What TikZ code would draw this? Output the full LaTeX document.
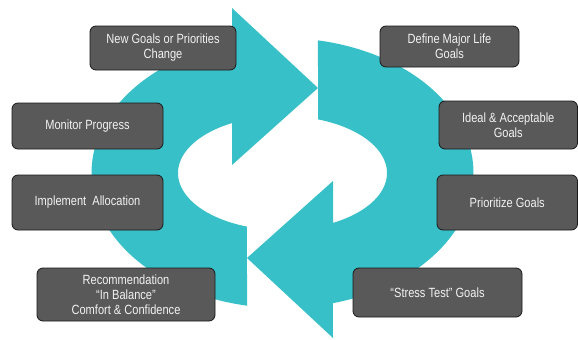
\documentclass[tikz,border=0pt]{standalone}
\usepackage{fontspec}
\setmainfont{Liberation Sans}[FakeStretch=0.83]
\definecolor{cyclefill}{RGB}{56,192,200}
\definecolor{boxfill}{RGB}{89,89,89}
\definecolor{boxtext}{RGB}{242,242,242}

% One arm of the cycle: curved body running round the left side,
% ending in an arrowhead that points right across the top.
\newcommand\drawcyclearm{%
  \fill[cyc]
    plot[domain=100.7:254.7,samples=90] ({282.5+191*cos(\x)},{173+135*sin(\x)})
    -- (232,8) -- (318,88) -- (232,165)
    -- plot[domain=241.1:109.9,samples=70] ({282.5+104.5*cos(\x)},{173+57*sin(\x)})
    -- cycle;}

\begin{document}
\begin{tikzpicture}[x=0.75pt,y=-0.75pt,
  cyc/.style={fill=cyclefill},
  goalbox/.style={draw=black!90,line width=0.6pt,fill=boxfill,
    rounded corners=4.5pt,text=boxtext,
    font=\fontsize{10}{11.25}\selectfont,align=center,
    inner sep=0pt,outer sep=0pt}]
\useasboundingbox (0,0) rectangle (578,339);

% the two arrows of the cycle, point-symmetric about the centre
\drawcyclearm
\begin{scope}[rotate around={180:(282.5,173)}]
  \drawcyclearm
\end{scope}

% steps, left column
\node[goalbox,minimum width=109.5pt,minimum height=33pt] (newgoals) at (163,48)
  {New Goals or Priorities\\Change};
\node[goalbox,minimum width=113.25pt,minimum height=34.5pt] (monitor) at (87.5,126)
  {Monitor Progress};
\node[goalbox,minimum width=113.25pt,minimum height=41.25pt] (implement) at (87.5,202.5)
  {Implement\ \ Allocation};
\node[goalbox,minimum width=133.5pt,minimum height=39.75pt] (recommend) at (126,294.5)
  {Recommendation\\“In Balance”\\Comfort \& Confidence};

% steps, right column
\node[goalbox,minimum width=104.25pt,minimum height=30.75pt] (define) at (449.5,46.5)
  {Define Major Life\\Goals};
\node[goalbox,minimum width=103.875pt,minimum height=36pt] (ideal) at (508.25,125)
  {Ideal \& Acceptable\\Goals};
\node[goalbox,minimum width=105.375pt,minimum height=41.25pt] (prioritize) at (507.25,202.5)
  {Prioritize Goals};
\node[goalbox,minimum width=126.75pt,minimum height=36.75pt] (stress) at (437.5,292.5)
  {“Stress Test” Goals};
\end{tikzpicture}
\end{document}
